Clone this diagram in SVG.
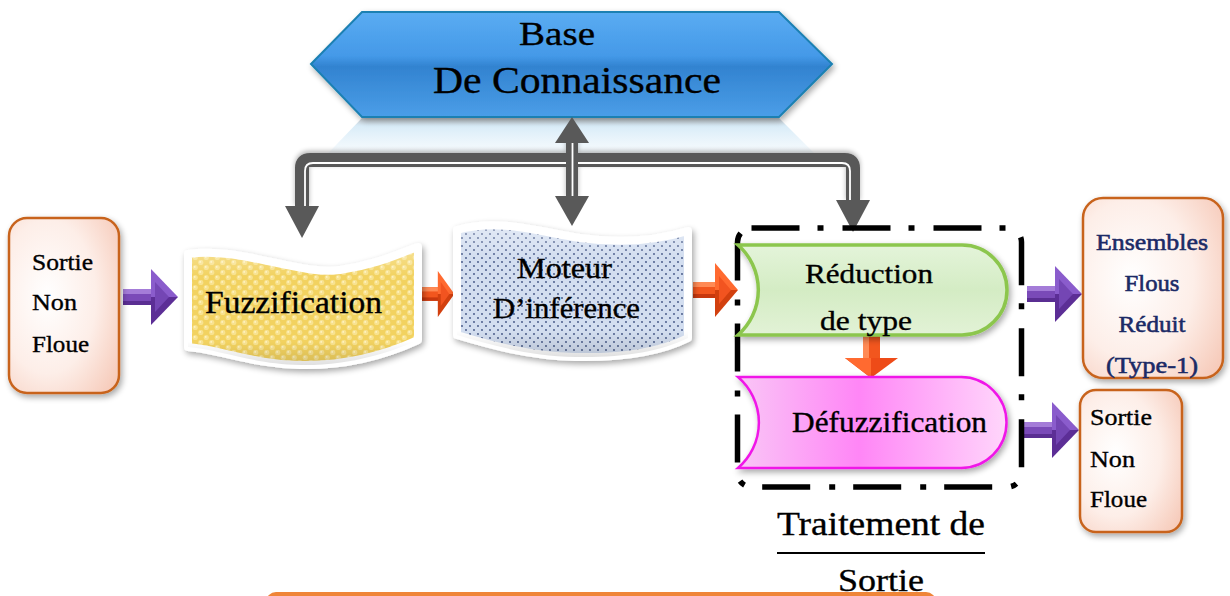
<svg xmlns="http://www.w3.org/2000/svg" width="1230" height="596" viewBox="0 0 1230 596">
  <defs>
    <style>
      .lbl { font-family: "Liberation Serif", "Times New Roman", serif; fill: #000; stroke: #000; stroke-width: 0.35; }
      .navy { font-family: "Liberation Serif", "Times New Roman", serif; fill: #1b2a66; stroke: #1b2a66; stroke-width: 0.55; }
      .box { stroke: #c8641f; stroke-width: 2.5; fill: url(#peach); }
      .bus { fill: none; stroke: #595959; stroke-width: 14; stroke-linejoin: round; }
      .busIn { fill: none; stroke: #ffffff; stroke-width: 1.8; stroke-linejoin: round; }
      .head { fill: #595959; }
    </style>

    <linearGradient id="hexFill" x1="0" y1="0" x2="0" y2="1">
      <stop offset="0" stop-color="#5aacf2"/>
      <stop offset="0.42" stop-color="#4499e8"/>
      <stop offset="0.52" stop-color="#3283d0"/>
      <stop offset="1" stop-color="#4b9ee8"/>
    </linearGradient>
    <linearGradient id="hexRefl" x1="0" y1="0" x2="0" y2="1">
      <stop offset="0" stop-color="#9aa6b0" stop-opacity="0.55"/>
      <stop offset="0.15" stop-color="#b9dcf2" stop-opacity="0.55"/>
      <stop offset="0.6" stop-color="#d8ecf8" stop-opacity="0.3"/>
      <stop offset="1" stop-color="#ffffff" stop-opacity="0"/>
    </linearGradient>
    <radialGradient id="peach" cx="0.35" cy="0.45" r="0.8">
      <stop offset="0" stop-color="#ffffff"/>
      <stop offset="0.55" stop-color="#fdeee8"/>
      <stop offset="1" stop-color="#f6c9b8"/>
    </radialGradient>
    <linearGradient id="greenFill" x1="0" y1="0" x2="0" y2="1">
      <stop offset="0" stop-color="#e4f4da"/>
      <stop offset="0.5" stop-color="#d4ecc4"/>
      <stop offset="1" stop-color="#e2f2d6"/>
    </linearGradient>
    <linearGradient id="pinkFill" x1="0" y1="0" x2="1" y2="0">
      <stop offset="0" stop-color="#f9c6f6"/>
      <stop offset="0.45" stop-color="#ff86f6"/>
      <stop offset="1" stop-color="#ffd6fb"/>
    </linearGradient>
    <linearGradient id="waveShade" x1="0" y1="0" x2="0" y2="1">
      <stop offset="0" stop-color="#ffffff" stop-opacity="0.35"/>
      <stop offset="0.25" stop-color="#ffffff" stop-opacity="0"/>
      <stop offset="0.8" stop-color="#000000" stop-opacity="0"/>
      <stop offset="1" stop-color="#000000" stop-opacity="0.12"/>
    </linearGradient>

    <pattern id="yellowDots" width="11" height="10" patternUnits="userSpaceOnUse">
      <rect width="11" height="10" fill="#f2d260"/>
      <circle cx="2.75" cy="2.5" r="2.6" fill="#f8e28f"/>
      <circle cx="8.25" cy="7.5" r="2.6" fill="#f8e28f"/>
      <circle cx="2.2" cy="1.9" r="0.9" fill="#fff3c4"/>
      <circle cx="7.7" cy="6.9" r="0.9" fill="#fff3c4"/>
    </pattern>
    <pattern id="blueDots" width="8" height="8" patternUnits="userSpaceOnUse">
      <rect width="8" height="8" fill="#d3def0"/>
      <circle cx="2" cy="2" r="0.9" fill="#3d4f80"/>
      <circle cx="6" cy="6" r="0.9" fill="#3d4f80"/>
    </pattern>

    <filter id="shadow" x="-10%" y="-10%" width="125%" height="130%">
      <feGaussianBlur in="SourceAlpha" stdDeviation="3"/>
      <feOffset dx="2" dy="3" result="b"/>
      <feComponentTransfer><feFuncA type="linear" slope="0.35"/></feComponentTransfer>
      <feMerge><feMergeNode/><feMergeNode in="SourceGraphic"/></feMerge>
    </filter>
    <filter id="busShadow" x="-5%" y="-20%" width="110%" height="140%">
      <feGaussianBlur in="SourceAlpha" stdDeviation="2.5"/>
      <feOffset dx="0" dy="-2" result="b"/>
      <feComponentTransfer><feFuncA type="linear" slope="0.3"/></feComponentTransfer>
      <feMerge><feMergeNode/><feMergeNode in="SourceGraphic"/></feMerge>
    </filter>

    <!-- bevelled block arrows, pointing right, origin at tail centre -->
    <g id="purpleArrow">
      <rect x="0" y="-8" width="32" height="16" fill="#7a4ab8"/>
      <rect x="0" y="-8" width="32" height="5" fill="#a47cd8"/>
      <rect x="0" y="4" width="32" height="4" fill="#5a2e92"/>
      <polygon points="28,-28 55,0 28,0" fill="#8a5ccc"/>
      <polygon points="28,0 55,0 28,28" fill="#5c2e96"/>
      <polygon points="32,-15 46,0 32,15" fill="#7446b4"/>
    </g>
    <g id="orangeArrow">
      <rect x="0" y="-8" width="24" height="16" fill="#f2561e"/>
      <rect x="0" y="-8" width="24" height="5" fill="#ff8a55"/>
      <rect x="0" y="4" width="24" height="4" fill="#c8380e"/>
      <polygon points="22,-27 45,0 22,0" fill="#ff6a30"/>
      <polygon points="22,0 45,0 22,27" fill="#d2400f"/>
      <polygon points="26,-14 38,0 26,14" fill="#f25420"/>
    </g>
  </defs>

  <rect width="1230" height="596" fill="#ffffff"/>

  <!-- knowledge base -->
  <g id="base">
    <polygon points="362,118 779,118 832,171 311,171" fill="url(#hexRefl)"/>
    <polygon points="311,64 362,12 779,12 832,64 779,117 362,117" fill="url(#hexFill)" stroke="#1b80b2" stroke-width="2" filter="url(#shadow)"/>
    <text class="lbl" x="557" y="45" font-size="34" text-anchor="middle" textLength="76" lengthAdjust="spacingAndGlyphs">Base</text>
    <text class="lbl" x="577" y="93" font-size="37" text-anchor="middle" textLength="288" lengthAdjust="spacingAndGlyphs">De  Connaissance</text>
  </g>

  <!-- connectors -->
  <g id="connectors">
    <g filter="url(#busShadow)">
      <path class="bus" d="M302,207 V168 Q302,160 310,160 H845 Q853,160 853,168 V202"/>
      <path class="busIn" d="M305,207 V171 Q305,163 313,163 H842 Q850,163 850,171 V202"/>
      <line x1="572" y1="140" x2="572" y2="199" stroke="#595959" stroke-width="12"/>
      <line x1="572.5" y1="140" x2="572.5" y2="199" stroke="#ffffff" stroke-width="1.8"/>
    </g>
    <polygon class="head" points="285,206 319,206 302,238"/>
    <polygon class="head" points="555,196 589,196 572,226"/>
    <polygon class="head" points="555,143 589,143 572,117"/>
    <polygon class="head" points="836,200 870,200 853,232"/>

    <use href="#purpleArrow" x="123" y="297"/>
    <g transform="translate(422,294) scale(0.72,0.85)"><use href="#orangeArrow"/></g>
    <use href="#orangeArrow" x="693" y="290"/>
    <use href="#purpleArrow" x="1027" y="294"/>
    <use href="#purpleArrow" x="1024" y="430"/>

    <!-- type reduction to defuzzification -->
    <rect x="863" y="336" width="17" height="23" fill="#f2561e"/>
    <rect x="863" y="336" width="6" height="23" fill="#ff8a55"/>
    <polygon points="845,358 898,358 871,378" fill="#ee4b18"/>
    <polygon points="845,358 871,358 871,378" fill="#ff6a30"/>
  </g>

  <!-- crisp input -->
  <g id="input">
    <rect class="box" x="9" y="218" width="110" height="175" rx="18" filter="url(#shadow)"/>
    <text class="lbl" x="32" y="270" font-size="24" textLength="61" lengthAdjust="spacingAndGlyphs">Sortie</text>
    <text class="lbl" x="32" y="310" font-size="24" textLength="45" lengthAdjust="spacingAndGlyphs">Non</text>
    <text class="lbl" x="32" y="352" font-size="24" textLength="57" lengthAdjust="spacingAndGlyphs">Floue</text>
  </g>

  <!-- fuzzification -->
  <g id="fuzzification">
    <path d="M188,254 C240,246 300,276 340,270 C380,264 402,252 418,247 L418,340 C392,352 350,366 300,365 C252,364 222,350 188,347 Z" fill="url(#yellowDots)" stroke="#ffffff" stroke-width="8" stroke-linejoin="round" filter="url(#shadow)"/>
    <path d="M188,254 C240,246 300,276 340,270 C380,264 402,252 418,247 L418,340 C392,352 350,366 300,365 C252,364 222,350 188,347 Z" fill="url(#waveShade)"/>
    <text class="lbl" x="205" y="313" font-size="32" textLength="177" lengthAdjust="spacingAndGlyphs">Fuzzification</text>
  </g>

  <!-- inference engine -->
  <g id="inference">
    <path d="M457,230 C500,218 540,232 580,238 C630,245 665,238 688,231 L688,338 C660,352 620,358 575,357 C530,356 490,345 457,335 Z" fill="url(#blueDots)" stroke="#ffffff" stroke-width="8" stroke-linejoin="round" filter="url(#shadow)"/>
    <path d="M457,230 C500,218 540,232 580,238 C630,245 665,238 688,231 L688,338 C660,352 620,358 575,357 C530,356 490,345 457,335 Z" fill="url(#waveShade)"/>
    <text class="lbl" x="517" y="278" font-size="29" textLength="95" lengthAdjust="spacingAndGlyphs">Moteur</text>
    <text class="lbl" x="493" y="318" font-size="29" textLength="147" lengthAdjust="spacingAndGlyphs">D’inférence</text>
  </g>

  <!-- output processing -->
  <g id="output-processing">
    <rect x="737.5" y="228" width="284" height="259" rx="14" fill="none" stroke="#000" stroke-width="5.5" stroke-dasharray="48 18 6 19"/>
    <text class="lbl" x="777" y="535" font-size="34" textLength="208" lengthAdjust="spacingAndGlyphs">Traitement de</text>
    <line x1="777" y1="553" x2="985" y2="553" stroke="#000" stroke-width="2.2"/>
    <text class="lbl" x="838" y="591" font-size="32" textLength="86" lengthAdjust="spacingAndGlyphs">Sortie</text>
  </g>

  <g id="type-reduction">
    <path d="M738,245 H962 A45,45 0 0 1 962,335 H738 A60,60 0 0 0 738,245 Z" fill="url(#greenFill)" stroke="#8cc64e" stroke-width="3.5" filter="url(#shadow)"/>
    <text class="lbl" x="805" y="283" font-size="28" textLength="128" lengthAdjust="spacingAndGlyphs">Réduction</text>
    <text class="lbl" x="820" y="330" font-size="28" textLength="92" lengthAdjust="spacingAndGlyphs">de type</text>
  </g>

  <g id="defuzzification">
    <path d="M738,377 H961 A45.5,45.5 0 0 1 961,468 H738 A60,60 0 0 0 738,377 Z" fill="url(#pinkFill)" stroke="#f018e8" stroke-width="2.5" filter="url(#shadow)"/>
    <text class="lbl" x="792" y="432" font-size="29" textLength="195" lengthAdjust="spacingAndGlyphs">Défuzzification</text>
  </g>

  <!-- reduced type-1 sets -->
  <g id="reduced-sets">
    <rect class="box" x="1083" y="198" width="140" height="180" rx="20" filter="url(#shadow)"/>
    <text class="navy" x="1152" y="250" font-size="23" text-anchor="middle" textLength="112" lengthAdjust="spacingAndGlyphs">Ensembles</text>
    <text class="navy" x="1152" y="291" font-size="23" text-anchor="middle" textLength="55" lengthAdjust="spacingAndGlyphs">Flous</text>
    <text class="navy" x="1152" y="332" font-size="23" text-anchor="middle" textLength="67" lengthAdjust="spacingAndGlyphs">Réduit</text>
    <text class="navy" x="1152" y="373" font-size="23" text-anchor="middle" textLength="92" lengthAdjust="spacingAndGlyphs">(Type-1)</text>
  </g>

  <!-- crisp output -->
  <g id="output">
    <rect class="box" x="1080" y="390" width="102" height="142" rx="16" filter="url(#shadow)"/>
    <text class="lbl" x="1090" y="425" font-size="23" textLength="62" lengthAdjust="spacingAndGlyphs">Sortie</text>
    <text class="lbl" x="1090" y="467" font-size="23" textLength="45" lengthAdjust="spacingAndGlyphs">Non</text>
    <text class="lbl" x="1090" y="507" font-size="23" textLength="57" lengthAdjust="spacingAndGlyphs">Floue</text>
  </g>

  <!-- box cut by the bottom edge -->
  <g id="bottom-box">
    <rect x="266" y="592" width="670" height="30" rx="10" fill="#ef8538"/>
  </g>
</svg>
